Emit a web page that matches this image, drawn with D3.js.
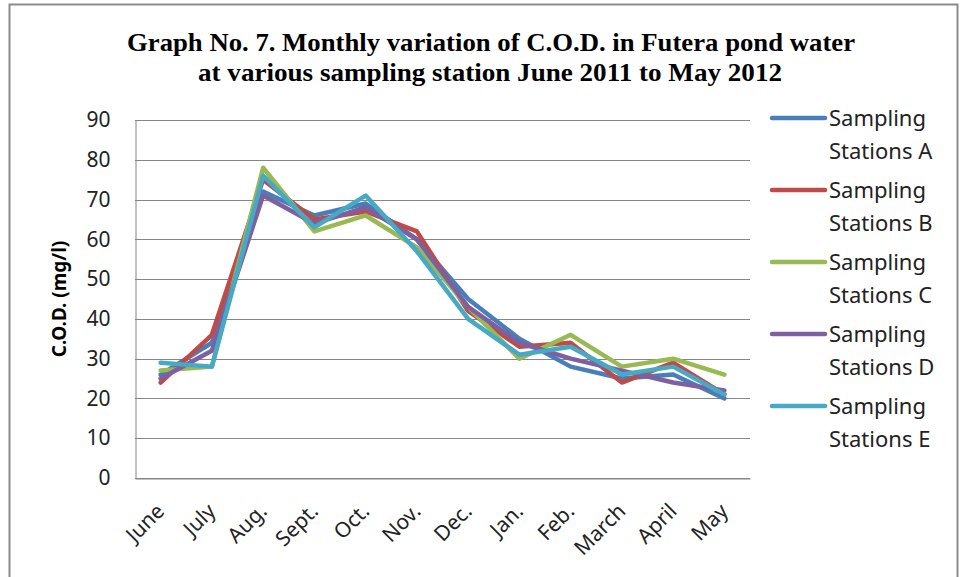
<!DOCTYPE html>
<html>
<head>
<meta charset="utf-8">
<script src="https://cdn.jsdelivr.net/npm/d3@7"></script>
<style>
  body { margin: 0; background: #fff; }
</style>
</head>
<body>
<div id="chart"></div>
<script>
const months = ["June", "July", "Aug.", "Sept.", "Oct.", "Nov.", "Dec.", "Jan.", "Feb.", "March", "April", "May"];
const stationA = [26, 34, 72, 66, 69, 60, 45, 35, 28, 25, 26, 20];
const stationB = [24, 36, 75, 65, 67, 62, 42, 33, 34, 24, 29, 21];
const stationC = [27, 28, 78, 62, 66, 58, 43, 30, 36, 28, 30, 26];
const stationD = [25, 32, 71, 64, 68, 60, 43, 34, 30, 27, 24, 22];
const stationE = [29, 28, 76, 63, 71, 57, 40, 31, 33, 26, 28, 21];
const seriesNames = ["Sampling Stations A", "Sampling Stations B", "Sampling Stations C", "Sampling Stations D", "Sampling Stations E"];
const yTicks = [0, 10, 20, 30, 40, 50, 60, 70, 80, 90];

const series = [stationA, stationB, stationC, stationD, stationE].map((values, i) => ({
  name: seriesNames[i],
  values
}));
const colors = ["#4a7ebb", "#be4b48", "#98b954", "#7d60a0", "#46aac5"];

const width = 960;
const height = 577;
const margin = { top: 120, right: 210, bottom: 99, left: 135 };

const svg = d3.select("#chart")
  .append("svg")
  .attr("width", width)
  .attr("height", height);

// outer frame
svg.append("rect")
  .attr("x", 9.5).attr("y", 4.5)
  .attr("width", 948).attr("height", 600)
  .attr("fill", "none")
  .attr("stroke", "#8c8c8c")
  .attr("stroke-width", 2);

const x = d3.scaleBand()
  .domain(months)
  .range([margin.left, width - margin.right]);

const y = d3.scaleLinear()
  .domain([0, 90])
  .range([height - margin.bottom, margin.top]);

// title
const title = svg.append("text")
  .attr("text-anchor", "middle")
  .attr("font-family", "Liberation Serif, Times New Roman, serif")
  .attr("font-weight", "bold")
  .attr("font-size", 26)
  .attr("fill", "#000");
title.append("tspan").attr("x", 491).attr("y", 51)
  .attr("textLength", 728).attr("lengthAdjust", "spacingAndGlyphs")
  .text("Graph No. 7. Monthly variation of C.O.D. in Futera pond water");
title.append("tspan").attr("x", 490).attr("y", 81)
  .attr("textLength", 584).attr("lengthAdjust", "spacingAndGlyphs")
  .text("at various sampling station June 2011 to May 2012");

// gridlines
svg.append("g")
  .selectAll("line")
  .data(yTicks)
  .join("line")
    .attr("x1", margin.left)
    .attr("x2", width - margin.right)
    .attr("y1", d => Math.round(y(d)) + 0.5)
    .attr("y2", d => Math.round(y(d)) + 0.5)
    .attr("stroke", "#868686")
    .attr("stroke-width", 1);

// y axis
const yAxis = svg.append("g")
  .attr("transform", `translate(${margin.left + 0.5},0)`)
  .call(d3.axisLeft(y).tickValues(yTicks).tickSize(0).tickPadding(25));
yAxis.select(".domain").attr("stroke", "#868686");
yAxis.selectAll("text")
  .attr("font-family", "Noto Sans, Open Sans, sans-serif")
  .attr("font-size", 21)
  .attr("fill", "#222");

// x axis
const xAxis = svg.append("g")
  .attr("transform", `translate(0,${Math.round(y(0)) + 0.5})`)
  .call(d3.axisBottom(x).tickSize(0).tickPadding(0));
xAxis.select(".domain").attr("stroke", "#868686");
xAxis.selectAll("text")
  .attr("font-family", "Noto Sans, Open Sans, sans-serif")
  .attr("font-size", 21)
  .attr("fill", "#222")
  .attr("text-anchor", "end")
  .attr("dy", 0)
  .attr("transform", "translate(5,34) rotate(-45)");

// y axis title
svg.append("text")
  .attr("transform", `translate(66,${(y(0) + y(90)) / 2}) rotate(-90)`)
  .attr("text-anchor", "middle")
  .attr("font-family", "Noto Sans, Open Sans, sans-serif")
  .attr("font-weight", "bold")
  .attr("font-size", 19)
  .attr("fill", "#000")
  .text("C.O.D. (mg/l)");

// lines
const line = d3.line()
  .x((d, i) => x(months[i]) + x.bandwidth() / 2)
  .y(d => y(d));

svg.append("g")
  .selectAll("path")
  .data(series)
  .join("path")
    .attr("d", d => line(d.values))
    .attr("fill", "none")
    .attr("stroke", (d, i) => colors[i])
    .attr("stroke-width", 4.5)
    .attr("stroke-linejoin", "round")
    .attr("stroke-linecap", "round");

// legend
const legend = svg.append("g")
  .selectAll("g")
  .data(series)
  .join("g")
    .attr("transform", (d, i) => `translate(770,${118 + i * 72})`);

legend.append("line")
  .attr("x1", 2).attr("x2", 55)
  .attr("y1", 0).attr("y2", 0)
  .attr("stroke", (d, i) => colors[i])
  .attr("stroke-width", 4.5)
  .attr("stroke-linecap", "round");

const legendText = legend.append("text")
  .attr("font-family", "Noto Sans, Open Sans, sans-serif")
  .attr("font-size", 22)
  .attr("fill", "#222");
legendText.append("tspan").attr("x", 59).attr("y", 8).text("Sampling");
legendText.append("tspan").attr("x", 59).attr("y", 41).text(d => d.name.replace("Sampling ", ""));
</script>
</body>
</html>
